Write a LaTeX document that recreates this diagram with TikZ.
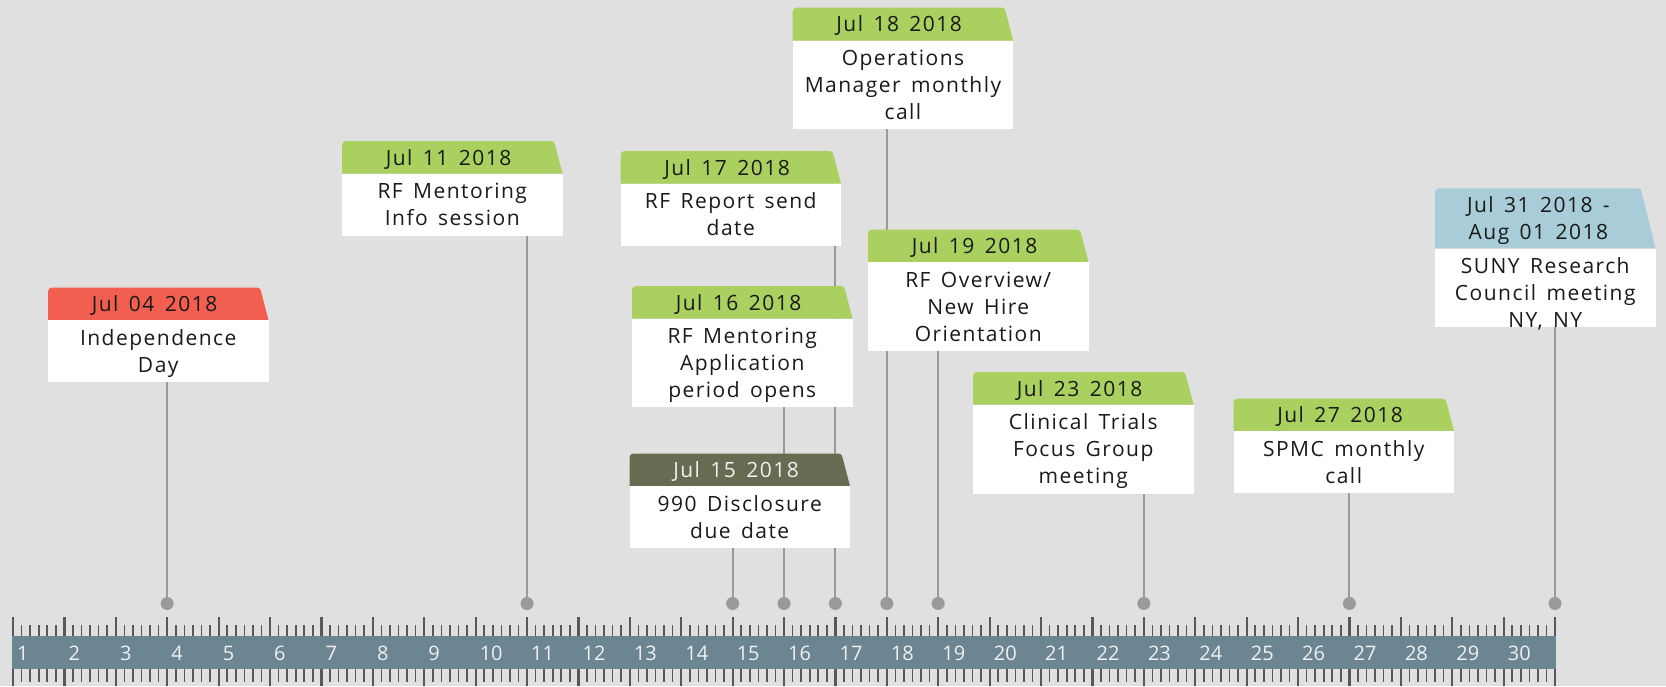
\documentclass[tikz,border=0pt]{standalone}
\usepackage{fontspec}
\setmainfont{Open Sans}
\newfontfamily\cardfont[LetterSpace=7,WordSpace=1.5]{Open Sans}
\newfontfamily\rulerfont{Open Sans}
\definecolor{bgc}{HTML}{E0E0E0}
\definecolor{redh}{HTML}{F25E50}
\definecolor{greenh}{HTML}{AAD05F}
\definecolor{oliveh}{HTML}{686A52}
\definecolor{blueh}{HTML}{A8CDD8}
\definecolor{rulerc}{HTML}{6B8592}
\definecolor{tickc}{HTML}{585858}
\definecolor{stemc}{HTML}{9A9A9A}
\definecolor{txt}{HTML}{1A1A1A}
\definecolor{numc}{HTML}{F0F0F0}
\pgfdeclarelayer{back}
\pgfdeclarelayer{stems}
\pgfsetlayers{back,stems,main}
\newcommand\evcard[9]{%
 \pgfmathsetmacro\cx{#2}\pgfmathsetmacro\cy{#3}%
 \pgfmathsetmacro\hb{#3+#4}\pgfmathsetmacro\xr{#2+220.5}%
 \pgfmathsetmacro\xt{#2+220.5-0.23*#4-4}%
 \fill[#6] (\cx,\hb) -- (\cx,\cy+4) arc[start angle=180,end angle=270,radius=4] -- (\xt,\cy) arc[start angle=270,end angle=360,radius=4] -- (\xr,\hb) -- cycle;
 \node[hdrtext,text=#7] (#1h) at ({#2+110.25-0.115*#4},{#3+#4/2+1.8}) {#8};
 \node[bodybox,minimum height=#5] (#1) at (\cx,\hb) {};
 \node[bodytext] (#1t) at ({#2+110.25},{#3+#4+6.1}) {\strut #9};
}
\begin{document}
\begin{tikzpicture}[x=1pt,y=-1pt,
  hdrtext/.style={font=\cardfont\fontsize{21}{27}\selectfont,inner sep=0,align=center},
  bodybox/.style={fill=white,minimum width=220.5,inner sep=0,anchor=north west,draw=none},
  bodytext/.style={font=\cardfont\fontsize{21}{27}\selectfont,inner sep=0,align=center,anchor=north,text=txt},
  dot/.style={circle,fill=stemc,minimum size=13,inner sep=0},
  stem/.style={draw=stemc,line width=1.9},
  majortick/.style={draw=tickc,line width=2.2},
  minortick/.style={draw=tickc,line width=1.6},
  rulernum/.style={font=\rulerfont\fontsize{20}{24}\selectfont,text=numc,inner sep=0,anchor=west}]
\begin{pgfonlayer}{back}
\fill[bgc] (0,0) rectangle (1666,686);
\end{pgfonlayer}
\useasboundingbox (0,0) rectangle (1666,686);
% ruler
\fill[rulerc] (12,636) rectangle (1556,669);
\foreach \d in {1,...,31}{
  \pgfmathsetmacro\tx{13+(\d-1)*51.4}
  \draw[majortick] (\tx,617) -- (\tx,636);
  \draw[majortick] (\tx,669) -- (\tx,686);
}
\foreach \d in {1,...,30}{
  \foreach \k in {1,...,5}{
    \pgfmathsetmacro\tx{13+(\d-1)*51.4+\k*51.4/6}
    \draw[minortick] (\tx,625) -- (\tx,636);
    \draw[minortick] (\tx,669) -- (\tx,681.5);
  }
}
\foreach \d in {1,...,30}{
  \pgfmathsetmacro\tx{13+(\d-1)*51.4+4}
  \node[rulernum] (n\d) at (\tx,653) {\d};
}
% dots
\foreach \d in {4,11,15,16,17,18,19,23,27,31}{
  \node[dot] (d\d) at ({13+(\d-1)*51.4},603.5) {};
}
% cards
\evcard{c04}{48}{287.5}{32.5}{62}{redh}{txt}{Jul 04 2018}{Independence\\Day}
\evcard{c11}{342}{141}{32.5}{62}{greenh}{txt}{Jul 11 2018}{RF Mentoring\\Info session}
\evcard{c17}{620.5}{151}{32.5}{62}{greenh}{txt}{Jul 17 2018}{RF Report send\\date}
\evcard{c16}{632}{286}{32.5}{88.5}{greenh}{txt}{Jul 16 2018}{RF Mentoring\\Application\\period opens}
\evcard{c15}{629.5}{453.5}{32.5}{62}{oliveh}{numc}{Jul 15 2018}{990 Disclosure\\due date}
\evcard{c18}{792.7}{7.5}{33}{88.5}{greenh}{txt}{Jul 18 2018}{Operations\\Manager monthly\\call}
\evcard{c19}{868}{229.5}{32.5}{89}{greenh}{txt}{Jul 19 2018}{RF Overview/\\New Hire\\Orientation}
\evcard{c23}{973}{372}{32.5}{89}{greenh}{txt}{Jul 23 2018}{Clinical Trials\\Focus Group\\meeting}
\evcard{c27}{1233.5}{398.5}{32.5}{62}{greenh}{txt}{Jul 27 2018}{SPMC monthly\\call}
\evcard{c31}{1435}{188.3}{60}{78.4}{blueh}{txt}{Jul 31 2018 -\\Aug 01 2018}{SUNY Research\\Council meeting\\NY, NY}
% stems
\begin{pgfonlayer}{stems}
\draw[stem] (d4.center) -- (d4 |- c04.south);
\draw[stem] (d11.center) -- (d11 |- c11.south);
\draw[stem] (d15.center) -- (d15 |- c15.south);
\draw[stem] (d16.center) -- (d16 |- c16.south);
\draw[stem] (d17.center) -- (d17 |- c17.south);
\draw[stem] (d18.center) -- (d18 |- c18.south);
\draw[stem] (d19.center) -- (d19 |- c19.south);
\draw[stem] (d23.center) -- (d23 |- c23.south);
\draw[stem] (d27.center) -- (d27 |- c27.south);
\draw[stem] (d31.center) -- (d31 |- c31.south);
\end{pgfonlayer}
\end{tikzpicture}
\end{document}
